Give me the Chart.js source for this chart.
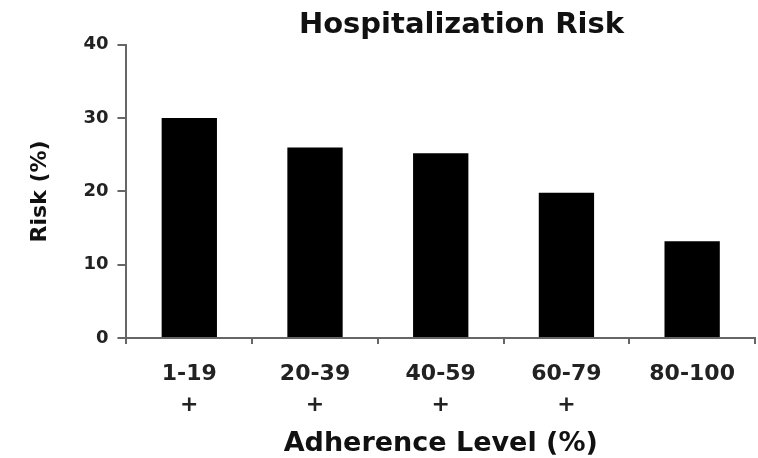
<!DOCTYPE html>
<html>
<head>
<meta charset="utf-8">
<script src="https://cdn.jsdelivr.net/npm/chart.js@4"></script>
<style>
  body { margin: 0; background: #fff; }
  #wrap { width: 758px; height: 458px; }
</style>
</head>
<body>
<div id="wrap"><canvas id="riskChart"></canvas></div>
<script>
// Chart data
const adherenceLevels = ["1-19", "20-39", "40-59", "60-79", "80-100"];
const significance = ["+", "+", "+", "+", ""];
const riskValues = [30, 26, 25.2, 19.8, 13.2];
const yTicks = [0, 10, 20, 30, 40];

const axisGray = "#666";
const fontFamily = "'DejaVu Sans', sans-serif";

// title sits right of the canvas centre in the original
const titleShift = {
  id: "titleShift",
  afterLayout(chart) {
    chart.titleBlock.left += 84;
    chart.titleBlock.right += 84;
  },
};

const labels = adherenceLevels.map((level, i) => [level, significance[i]]);

new Chart(document.getElementById("riskChart"), {
  type: "bar",
  data: {
    labels: labels,
    datasets: [
      {
        data: riskValues,
        backgroundColor: "#000",
        borderWidth: 0,
        categoryPercentage: 1,
        barPercentage: 0.44,
      },
    ],
  },
  options: {
    responsive: true,
    maintainAspectRatio: false,
    animation: false,
    layout: { padding: { left: 0, right: 3, top: 0, bottom: 0 } },
    plugins: {
      legend: { display: false },
      tooltip: { enabled: false },
      title: {
        display: true,
        text: "Hospitalization Risk",
        color: "#111",
        font: { family: fontFamily, size: 29, weight: "bold" },
        padding: { top: 8, bottom: 2 },
      },
    },
    scales: {
      x: {
        grid: {
          drawOnChartArea: false,
          drawTicks: true,
          tickLength: 6,
          color: axisGray,
          lineWidth: 2,
        },
        border: { display: true, color: axisGray, width: 2 },
        ticks: {
          color: "#222",
          padding: 15,
          maxRotation: 0,
          font: { family: fontFamily, size: 22, weight: "bold", lineHeight: 1.41 },
        },
        title: {
          display: true,
          text: "Adherence Level (%)",
          color: "#111",
          font: { family: fontFamily, size: 27, weight: "bold", lineHeight: 0.444 },
          padding: { top: 2, bottom: 8 },
        },
      },
      y: {
        min: 0,
        max: 40,
        afterBuildTicks: (axis) => {
          axis.ticks = yTicks.map((v) => ({ value: v }));
        },
        grid: {
          drawOnChartArea: false,
          drawTicks: true,
          tickLength: 9,
          color: axisGray,
          lineWidth: 2,
        },
        border: { display: true, color: axisGray, width: 2 },
        ticks: {
          color: "#222",
          padding: 9,
          font: { family: fontFamily, size: 18, weight: "bold" },
        },
        title: {
          display: true,
          text: "Risk (%)",
          color: "#111",
          font: { family: fontFamily, size: 22, weight: "bold", lineHeight: 1.2 },
          padding: { top: 27, bottom: 21 },
        },
      },
    },
  },
  plugins: [titleShift],
});
</script>
</body>
</html>
